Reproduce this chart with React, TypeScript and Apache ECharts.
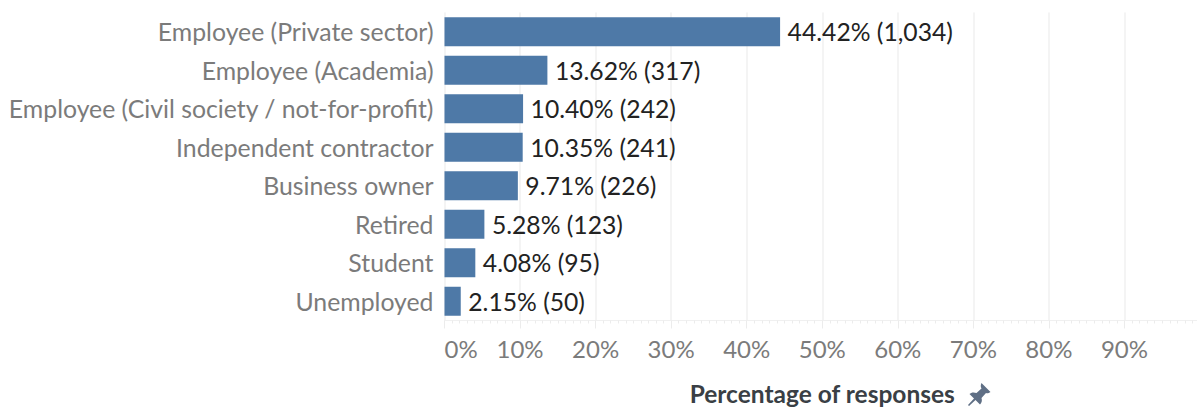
import React, { useEffect, useRef } from "react";
import * as echarts from "echarts";

const categories = [
  "Employee (Private sector)",
  "Employee (Academia)",
  "Employee (Civil society / not-for-profit)",
  "Independent contractor",
  "Business owner",
  "Retired",
  "Student",
  "Unemployed",
];
const percentages = [44.42, 13.62, 10.4, 10.35, 9.71, 5.28, 4.08, 2.15];
const counts = [1034, 317, 242, 241, 226, 123, 95, 50];
const axisTitle = "Percentage of responses";
const FONT = "Lato, 'Open Sans', sans-serif";

const PIN =
  "M14 0 L23 9 C21 10.5 19.5 10.5 18.5 10 L14 15 C15 18 14 20 12.5 21.5 L8 17 L1.5 23 L0.5 22 L6.5 15.5 L2 11 C3.5 9.5 6 9 9 10 L14 5.5 C13 4 13 2 14 0 Z";

export default function App() {
  const ref = useRef<HTMLDivElement>(null);
  useEffect(() => {
    document.body.style.margin = "0";
    echarts.graphic.registerShape("pin", (echarts.graphic as any).extendPath(PIN, {}));
    const chart = echarts.init(ref.current!, null, { renderer: "svg" });
    chart.setOption({
      animation: false,
      grid: { left: 444.5, top: 12.5, width: 755.5, height: 308, outerBoundsMode: "none" },
      xAxis: {
        type: "value",
        min: 0,
        max: 100,
        interval: 10,
        position: "bottom",
        axisLine: { show: true, lineStyle: { color: "#f0f0f0", width: 1 } },
        axisTick: { show: true, length: 8, lineStyle: { color: "#ececec", width: 1 } },
        minorTick: { show: true, splitNumber: 10, length: 3, lineStyle: { color: "#ececec", width: 1 } },
        splitLine: { show: true, lineStyle: { color: "#f0f0f0", width: 1.5 } },
        axisLabel: {
          formatter: (v: number) => (v === 100 ? "" : v + "%"),
          color: "#7b7b7b",
          fontFamily: FONT,
          fontSize: 24,
          margin: 16,
          alignMinLabel: "left",
        },
        name: axisTitle,
        nameLocation: "middle",
        nameGap: 60,
        nameTextStyle: { color: "#3a3f45", fontFamily: FONT, fontSize: 24.5, fontWeight: 700 },
      },
      yAxis: {
        type: "category",
        inverse: true,
        data: categories,
        axisLine: { show: false },
        axisTick: { show: false },
        splitLine: { show: false },
        axisLabel: { color: "#7b7b7b", fontFamily: FONT, fontSize: 24.8, margin: 11 },
      },
      series: [
        {
          type: "bar",
          data: percentages,
          barWidth: 29,
          itemStyle: { color: "#4e79a7" },
          label: {
            show: true,
            position: "right",
            distance: 7.5,
            color: "#222222",
            fontFamily: FONT,
            fontSize: 24.7,
            formatter: (p: any) =>
              p.value.toFixed(2) + "% (" + counts[p.dataIndex].toLocaleString("en-US") + ")",
          },
        },
      ],
      graphic: [
        {
          type: "pin",
          x: 967.5,
          y: 383,
          scaleX: 1,
          scaleY: 1,
          style: { fill: "#5f6f85" },
        },
      ],
    });
    return () => chart.dispose();
  }, []);
  return <div ref={ref} style={{ width: 1197, height: 407 }} />;
}
